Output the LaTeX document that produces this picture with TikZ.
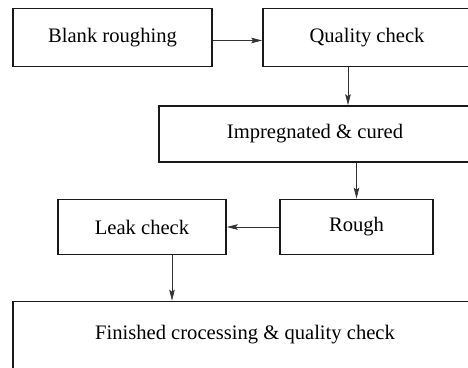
\documentclass[tikz,border=0pt]{standalone}
\usepackage{fontspec}
\setmainfont{Liberation Serif}
\usepackage{tikz}
\usetikzlibrary{arrows.meta, calc}

\begin{document}
\begin{tikzpicture}[
  x=1pt, y=-1pt,
  every node/.style={font=\fontsize{20.6}{24}\selectfont},
  stagebox/.style={rectangle, draw=black!90, line width=1.6pt, inner sep=0pt,
                   align=center},
  arrow/.style={-{Stealth[length=11pt, width=5.5pt, inset=2pt]}, line width=0.7pt, black!80}
]
  \useasboundingbox (0,0) rectangle (468,367);
  \clip (0,0) rectangle (468,367);

  \node[stagebox, minimum width=199pt, minimum height=58pt] (blank)   at (112.5, 37.5) {Blank roughing};
  \node[stagebox, minimum width=208pt, minimum height=58pt] (quality) at (367, 37.5)   {Quality check};
  \node[stagebox, minimum width=312pt, minimum height=56pt] (impreg)  at (315, 134)    {Impregnated \& cured};
  \node[stagebox, minimum width=168pt, minimum height=55pt] (leak)    at (142, 227)    {Leak check};
  \node[stagebox, minimum width=153pt, minimum height=55pt] (rough)   at (356.5, 227)  {Rough};
  \node[stagebox, minimum width=464pt, minimum height=67pt] (finish)  at (245, 335)    {Finished crocessing \& quality check};

  \draw[arrow] ([yshift=-3pt]blank.east) -- ([yshift=-3pt]quality.west);
  \draw[arrow] ([xshift=-19pt]quality.south) -- ([xshift=-19pt]quality.south |- impreg.north);
  \draw[arrow] (impreg.south -| rough.north) -- (rough.north);
  \draw[arrow] (rough) -- (leak);
  \draw[arrow] ([xshift=30pt]leak.south) -- ([xshift=30pt]leak.south |- finish.north);

\end{tikzpicture}
\end{document}
